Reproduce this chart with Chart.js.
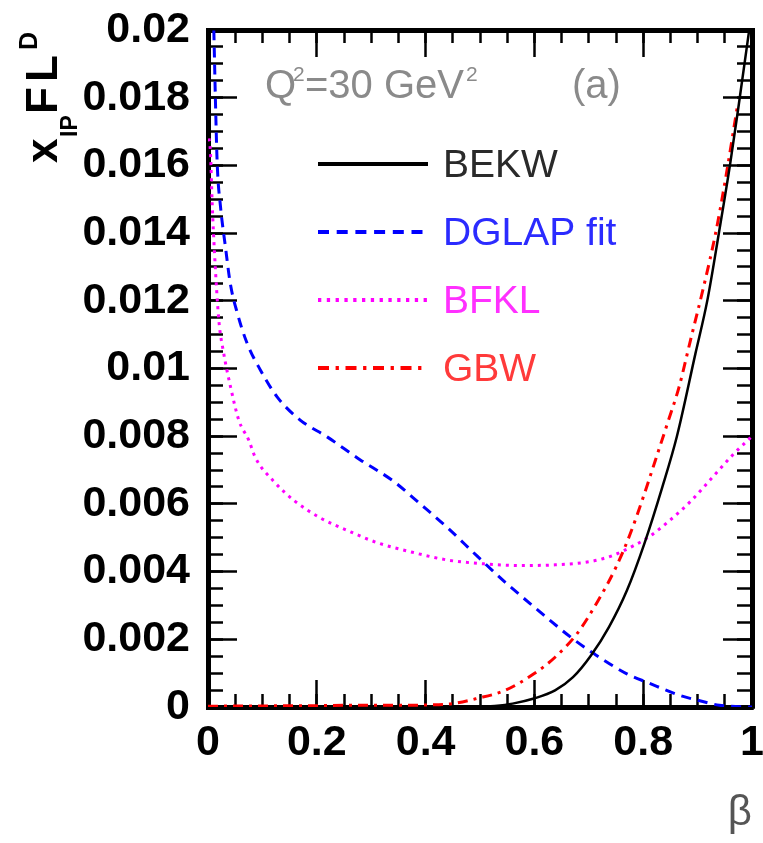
<!DOCTYPE html>
<html>
<head>
<meta charset="utf-8">
<script src="https://cdn.jsdelivr.net/npm/chart.js@4.4.1/dist/chart.umd.min.js"></script>
<style>
  html, body { margin: 0; padding: 0; background: #fff; }
  #wrap { width: 763px; height: 843px; }
</style>
</head>
<body>
<div id="wrap"><canvas id="chart" width="763" height="843"></canvas></div>
<script>
// values: beta on x, x_IP FL^D on y
const bekwBeta = [0.50, 0.527, 0.56, 0.599, 0.638, 0.671, 0.704, 0.737, 0.77, 0.802, 0.835, 0.862, 0.896, 0.918, 0.939, 0.96, 0.976, 0.994, 1.0];
const bekwVal = [0, 0.00003, 0.0001, 0.00025, 0.00049, 0.00088, 0.00152, 0.00236, 0.00344, 0.00482, 0.00649, 0.0080, 0.01044, 0.01202, 0.01399, 0.01606, 0.01783, 0.0199, 0.0206];

const dglapBeta = [0.005, 0.0107, 0.0138, 0.0169, 0.023, 0.032, 0.041, 0.054, 0.072, 0.0965, 0.127, 0.17, 0.219, 0.28, 0.34, 0.39, 0.44, 0.494, 0.546, 0.6, 0.671, 0.71, 0.77, 0.81, 0.868, 0.9, 0.94, 0.98, 1.0];
const dglapVal = [0.0235, 0.02, 0.01783, 0.01606, 0.01478, 0.0136, 0.01251, 0.01163, 0.01074, 0.00995, 0.00916, 0.00847, 0.00798, 0.0073, 0.00668, 0.0060, 0.0053, 0.00447, 0.00369, 0.00295, 0.00201, 0.00157, 0.00098, 0.00071, 0.00034, 0.0002, 0.00005, 0.00001, 0];

const bfklBeta = [0.002, 0.0046, 0.0077, 0.012, 0.0199, 0.029, 0.0414, 0.0567, 0.075, 0.087, 0.12, 0.159, 0.205, 0.257, 0.31, 0.376, 0.441, 0.507, 0.573, 0.638, 0.704, 0.743, 0.783, 0.809, 0.848, 0.888, 0.927, 0.966, 1.0];
const bfklVal = [0.0168, 0.01636, 0.01488, 0.0134, 0.01143, 0.01044, 0.00946, 0.00847, 0.00788, 0.00737, 0.00668, 0.00609, 0.0056, 0.00521, 0.00486, 0.00457, 0.00434, 0.00423, 0.00418, 0.0042, 0.0043, 0.00447, 0.00477, 0.00501, 0.0055, 0.00609, 0.00678, 0.00747, 0.0080];

const gbwBeta = [0, 0.05, 0.1, 0.15, 0.2, 0.25, 0.3, 0.35, 0.4, 0.45, 0.494, 0.546, 0.599, 0.638, 0.678, 0.717, 0.75, 0.776, 0.802, 0.822, 0.845, 0.866, 0.887, 0.911, 0.933, 0.951, 0.973];
const gbwVal = [0.00002, 0.00003, 0.00003, 0.00004, 0.00004, 0.00005, 0.00005, 0.00005, 0.00006, 0.0001, 0.00025, 0.00049, 0.00098, 0.00147, 0.00216, 0.00314, 0.00413, 0.00511, 0.00629, 0.00727, 0.0084, 0.00946, 0.01084, 0.01241, 0.01399, 0.01557, 0.01773];

const xTicks = [0, 0.2, 0.4, 0.6, 0.8, 1];
const yTicks = [0, 0.002, 0.004, 0.006, 0.008, 0.01, 0.012, 0.014, 0.016, 0.018, 0.02];
const xMinorStep = 0.05;
const yMinorStep = 0.0005;

const fam = "'Liberation Sans', Arial, Helvetica, sans-serif";

function pts(xs, ys) {
  return xs.map((b, i) => ({ x: b, y: ys[i] }));
}

function steps(min, max, step) {
  const n = Math.round((max - min) / step);
  return Array.from({ length: n + 1 }, (_, i) => +(min + i * step).toFixed(6));
}
const xMinor = steps(0, 1, xMinorStep);
const yMinor = steps(0, 0.02, yMinorStep);

const data = {
  datasets: [
    { label: 'BEKW', data: pts(bekwBeta, bekwVal), borderColor: '#000000', borderWidth: 2.5, borderDash: [], textColor: '#2a2a2a' },
    { label: 'DGLAP fit', data: pts(dglapBeta, dglapVal), borderColor: '#0000ff', borderWidth: 3, borderDash: [10, 7], textColor: '#2b2bff' },
    { label: 'BFKL', data: pts(bfklBeta, bfklVal), borderColor: '#ff00ff', borderWidth: 3, borderDash: [3, 5], textColor: '#ff30ff' },
    { label: 'GBW', data: pts(gbwBeta, gbwVal), borderColor: '#ff0000', borderWidth: 3, borderDash: [10, 6, 3, 6], textColor: '#ff3a3a' },
  ],
};

// an axis that only draws inward tick marks (negative tickLength), no labels
function tickAxis(position, horizontal, list, len, frame, weight) {
  return {
    type: 'linear',
    position: position,
    weight: weight,
    min: 0,
    max: horizontal ? 1 : 0.02,
    afterBuildTicks: (s) => { s.ticks = list.map((v) => ({ value: v })); },
    afterFit: (s) => {
      if (horizontal) s.height = 0; else s.width = 0;
      s.paddingLeft = 0; s.paddingRight = 0; s.paddingTop = 0; s.paddingBottom = 0;
    },
    grid: { display: true, drawOnChartArea: false, drawTicks: true, tickLength: -len, tickWidth: 2.5, tickColor: '#000' },
    border: { display: frame, width: 5, color: '#000' },
    ticks: { display: false },
  };
}

const notes = {
  id: 'notes',
  afterDraw(chart) {
    const { ctx, chartArea: a } = chart;
    ctx.save();
    ctx.setLineDash([]);
    ctx.textAlign = 'left';
    ctx.textBaseline = 'alphabetic';

    // Q^2 = 30 GeV^2 and (a)
    ctx.fillStyle = '#8a8a8a';
    ctx.font = `40px ${fam}`;
    ctx.fillText('Q', 265, 98);
    ctx.fillText('=30 GeV', 305, 98);
    const gw = ctx.measureText('=30 GeV').width;
    ctx.fillText('(a)', 572, 98);
    ctx.font = `21px ${fam}`;
    ctx.fillText('2', 293, 81);
    ctx.fillText('2', 305 + gw + 2, 81);

    // legend
    const lx0 = a.left + 110, lx1 = a.left + 220, tx = a.left + 235;
    chart.data.datasets.forEach((ds, i) => {
      const ly = 164 + i * 68;
      ctx.strokeStyle = ds.borderColor;
      ctx.lineWidth = 4;
      ctx.setLineDash(ds.borderDash.length ? ds.borderDash.map((d) => d * 1.1) : []);
      ctx.beginPath();
      ctx.moveTo(lx0, ly);
      ctx.lineTo(lx1, ly);
      ctx.stroke();
      ctx.setLineDash([]);
      ctx.fillStyle = ds.textColor;
      ctx.font = `39px ${fam}`;
      ctx.textBaseline = 'middle';
      ctx.fillText(ds.label, tx, ly + 2);
    });

    // y title: x_IP FL^D, rotated
    ctx.textBaseline = 'alphabetic';
    ctx.fillStyle = '#000';
    ctx.translate(57, 163);
    ctx.rotate(-Math.PI / 2);
    ctx.font = `bold 44px ${fam}`;
    ctx.fillText('x', 0, 0);
    ctx.fillText('F', 49, 0);
    ctx.fillText('L', 81, 0);
    ctx.font = `bold 23px ${fam}`;
    ctx.fillText('IP', 26, 20);
    ctx.font = `bold 25px ${fam}`;
    ctx.fillText('D', 113, -20);
    ctx.restore();
  },
};

const config = {
  type: 'line',
  data: data,
  options: {
    responsive: false,
    animation: false,
    layout: { padding: { top: 30, right: 11, left: 0, bottom: 0 } },
    elements: {
      point: { radius: 0 },
      line: { cubicInterpolationMode: 'monotone', fill: false },
    },
    plugins: {
      legend: { display: false },
      tooltip: { enabled: false },
    },
    scales: {
      x: {
        type: 'linear',
        position: 'bottom',
        weight: 0,
        min: 0,
        max: 1,
        afterBuildTicks: (s) => { s.ticks = xTicks.map((v) => ({ value: v })); },
        afterFit: (s) => { s.height = 136; s.paddingLeft = 0; s.paddingRight = 0; },
        grid: { display: true, drawOnChartArea: false, drawTicks: true, tickLength: -27, tickWidth: 2.5, tickColor: '#000' },
        border: { display: true, width: 5, color: '#000' },
        ticks: {
          autoSkip: false,
          maxRotation: 0,
          padding: 37,
          color: '#000',
          font: { family: fam, size: 43, weight: 'bold' },
          callback: (v) => String(+(+v).toFixed(3)),
        },
        title: {
          display: true,
          text: 'β',
          align: 'end',
          color: '#555',
          font: { family: fam, size: 42 },
          padding: { top: 0, bottom: 4 },
        },
      },
      y: {
        type: 'linear',
        position: 'left',
        weight: 0,
        min: 0,
        max: 0.02,
        afterBuildTicks: (s) => { s.ticks = yTicks.map((v) => ({ value: v })); },
        afterFit: (s) => { s.width = 208; s.paddingTop = 0; s.paddingBottom = 0; },
        grid: { display: true, drawOnChartArea: false, drawTicks: true, tickLength: -29, tickWidth: 2.5, tickColor: '#000' },
        border: { display: true, width: 5, color: '#000' },
        ticks: {
          autoSkip: false,
          padding: 47,
          color: '#000',
          font: { family: fam, size: 43, weight: 'bold' },
          callback: (v) => String(+(+v).toFixed(4)),
        },
      },
      xMinorBottom: tickAxis('bottom', true, xMinor, 13, false, -1),
      xTop: tickAxis('top', true, xTicks, 27, true, 0),
      xMinorTop: tickAxis('top', true, xMinor, 13, false, -1),
      yMinorLeft: tickAxis('left', false, yMinor, 15, false, -1),
      yRight: tickAxis('right', false, yTicks, 29, true, 0),
      yMinorRight: tickAxis('right', false, yMinor, 15, false, -1),
    },
  },
  plugins: [notes],
};

new Chart(document.getElementById('chart').getContext('2d'), config);
</script>
</body>
</html>
